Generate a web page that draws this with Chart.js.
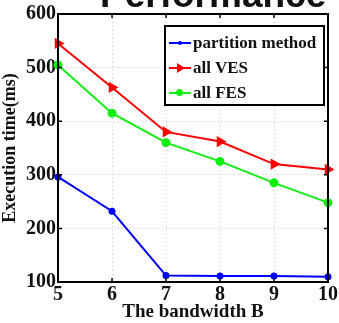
<!DOCTYPE html>
<html>
<head>
<meta charset="utf-8">
<script src="https://cdn.jsdelivr.net/npm/chart.js@4"></script>
<style>
  html,body{margin:0;padding:0;background:#fff;overflow:hidden}
  #wrap{position:relative;width:339px;height:323px}
  #titulo{position:absolute;left:100px;top:-24px;font:bold 37px "Liberation Sans",Arial,sans-serif;line-height:37px;color:#111;white-space:nowrap}
  #leyenda{position:absolute;left:164px;top:25px;width:161px;height:81px;border:2px solid #000;background:#fff;box-sizing:border-box;font:bold 17px "Liberation Serif","Times New Roman",serif;color:#111}
  .fila{position:absolute;left:3px;height:20px;line-height:20px;white-space:nowrap}
  .muestra{display:inline-block;position:relative;width:22px;height:20px;vertical-align:top;margin-right:2px}
  .muestra i{position:absolute;left:0;top:9px;width:22px;height:2px}
  .muestra b{position:absolute}
</style>
</head>
<body>
<div id="wrap">
  <canvas id="grafico" width="339" height="323"></canvas>
  <div id="titulo">Performance</div>
  <div id="leyenda"></div>
</div>
<script>
// ---- datos ----
const anchos = [5, 6, 7, 8, 9, 10];
const particion = [296, 232, 112, 111, 111, 110];
const todoVES = [545, 463, 380, 362, 320, 310];
const todoFES = [505, 415, 360, 325, 285, 248];
const ticksY = [100, 200, 300, 400, 500, 600];
const nombres = ['partition method', 'all VES', 'all FES'];
const colores = ['#0000ff', '#ff0000', '#11ee11'];

const serif = '"Liberation Serif","Times New Roman",serif';
const fuenteEje = { family: serif, weight: 'bold', size: 20 };

function serie(vals) { return anchos.map((x, i) => ({ x: x, y: vals[i] })); }

// marco negro + marcas hacia dentro
const marco = {
  id: 'marco',
  afterDatasetsDraw(chart) {
    const { ctx, chartArea: a, scales } = chart;
    ctx.save();
    ctx.strokeStyle = '#000';
    ctx.lineWidth = 1.5;
    ctx.beginPath();
    anchos.forEach(v => {
      const px = scales.x.getPixelForValue(v);
      ctx.moveTo(px, a.bottom); ctx.lineTo(px, a.bottom - 4);
      ctx.moveTo(px, a.top); ctx.lineTo(px, a.top + 4);
    });
    ticksY.forEach(v => {
      const py = scales.y.getPixelForValue(v);
      ctx.moveTo(a.left, py); ctx.lineTo(a.left + 4, py);
      ctx.moveTo(a.right, py); ctx.lineTo(a.right - 4, py);
    });
    ctx.stroke();
    ctx.lineWidth = 2;
    ctx.strokeRect(a.left, a.top, a.right - a.left, a.bottom - a.top);
    ctx.restore();
  }
};

const rejilla = { color: '#c8c8c8', lineWidth: 1, drawTicks: false, borderDash: [1, 3] };

new Chart(document.getElementById('grafico').getContext('2d'), {
  type: 'line',
  data: {
    datasets: [
      { label: nombres[0], data: serie(particion), borderColor: colores[0], backgroundColor: colores[0], borderWidth: 2, pointStyle: 'circle', pointRadius: 2.5, tension: 0 },
      { label: nombres[1], data: serie(todoVES), borderColor: colores[1], backgroundColor: colores[1], borderWidth: 2, pointStyle: 'triangle', rotation: 90, pointRadius: 4.5, tension: 0 },
      { label: nombres[2], data: serie(todoFES), borderColor: colores[2], backgroundColor: colores[2], borderWidth: 2, pointStyle: 'circle', pointRadius: 3.5, tension: 0 }
    ]
  },
  options: {
    responsive: false,
    animation: false,
    clip: false,
    layout: { padding: { top: 14, right: 5, left: 0, bottom: 0 } },
    plugins: { legend: { display: false }, tooltip: { enabled: false } },
    scales: {
      x: {
        type: 'linear', min: 5, max: 10,
        afterBuildTicks: s => { s.ticks = anchos.map(v => ({ value: v })); },
        afterFit: s => { s.height = 41; },
        grid: rejilla,
        border: { display: false, dash: [1, 3] },
        ticks: { color: '#111', font: fuenteEje, padding: 1, maxRotation: 0 },
        title: { display: true, text: 'The bandwidth B', color: '#111', font: { family: serif, weight: 'bold', size: 19 }, padding: { top: -7, bottom: 0 } }
      },
      y: {
        min: 100, max: 600,
        afterBuildTicks: s => { s.ticks = ticksY.map(v => ({ value: v })); },
        afterFit: s => { s.width = 58; },
        grid: rejilla,
        border: { display: false, dash: [1, 3] },
        ticks: { color: '#111', font: fuenteEje, padding: 2 },
        title: { display: true, text: 'Execution time(ms)', color: '#111', font: { family: serif, weight: 'bold', size: 18 }, padding: { top: 0, bottom: 0 } }
      }
    }
  },
  plugins: [marco]
});

// leyenda dentro del área
const ley = document.getElementById('leyenda');
nombres.forEach((n, i) => {
  const f = document.createElement('div');
  f.className = 'fila';
  f.style.top = (6 + i * 25) + 'px';
  let marca = '';
  if (i === 0) marca = `<b style="left:9px;top:8px;width:4px;height:4px;border-radius:50%;background:${colores[i]}"></b>`;
  if (i === 1) marca = `<b style="left:8px;top:5px;width:0;height:0;border-top:5px solid transparent;border-bottom:5px solid transparent;border-left:8px solid ${colores[i]}"></b>`;
  if (i === 2) marca = `<b style="left:7px;top:6px;width:7px;height:7px;border-radius:50%;background:${colores[i]}"></b>`;
  f.innerHTML = `<span class="muestra"><i style="background:${colores[i]}"></i>${marca}</span>${n}`;
  ley.appendChild(f);
});
</script>
</body>
</html>
